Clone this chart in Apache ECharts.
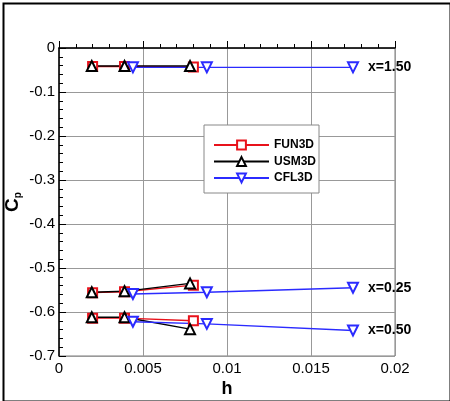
<!DOCTYPE html>
<html>
<head>
<meta charset="utf-8">
<script src="https://cdn.jsdelivr.net/npm/echarts@6/dist/echarts.min.js"></script>
<style>
html,body{margin:0;padding:0;background:#fff;}
#chart{width:450px;height:401px;}
</style>
</head>
<body>
<div id="chart"></div>
<script>
// Stations (labels)
const stations = ['x=1.50', 'x=0.25', 'x=0.50'];
// FUN3D
const funH = [0.002, 0.0039, 0.0080];
const funCp150 = [-0.042, -0.042, -0.043];
const funCp025 = [-0.556, -0.554, -0.539];
const funCp050 = [-0.614, -0.614, -0.620];
// USM3D
const usmH = [0.00195, 0.0039, 0.0078];
const usmCp150 = [-0.041, -0.041, -0.041];
const usmCp025 = [-0.555, -0.553, -0.535];
const usmCp050 = [-0.612, -0.612, -0.639];
// CFL3D
const cflH = [0.0044, 0.0088, 0.0175];
const cflCp150 = [-0.044, -0.044, -0.044];
const cflCp025 = [-0.559, -0.555, -0.545];
const cflCp050 = [-0.622, -0.627, -0.642];
// Axis ticks
const xTicks = [0, 0.005, 0.01, 0.015, 0.02];
const yTicks = [0, -0.1, -0.2, -0.3, -0.4, -0.5, -0.6, -0.7];

const FONT = '"Liberation Sans", Arial, Helvetica, sans-serif';
const RED = '#e8121b', BLACK = '#000000', BLUE = '#2b2bff';

function pts(h, cp) { return h.map((v, i) => [v, cp[i]]); }

function mk(name, color, symbol, rot, h, cp, label) {
  const data = pts(h, cp);
  if (label) {
    const last = data.length - 1;
    data[last] = {
      value: data[last],
      label: {
        show: true, position: 'right', distance: 9, formatter: label,
        fontFamily: FONT, fontWeight: 'bold', fontSize: 14, color: '#000'
      }
    };
  }
  return {
    name: name, type: 'line', data: data,
    symbol: symbol, symbolSize: symbol === 'emptyRect' ? 9 : 10,
    symbolRotate: rot, showAllSymbol: true,
    lineStyle: { color: color, width: 1.4 },
    itemStyle: { color: color, borderColor: color, borderWidth: 1.4 },
    animation: false, z: 3
  };
}

const series = [
  mk('FUN3D', RED, 'emptyRect', 0, funH, funCp150),
  mk('FUN3D', RED, 'emptyRect', 0, funH, funCp025),
  mk('FUN3D', RED, 'emptyRect', 0, funH, funCp050),
  mk('USM3D', BLACK, 'emptyTriangle', 0, usmH, usmCp150),
  mk('USM3D', BLACK, 'emptyTriangle', 0, usmH, usmCp025),
  mk('USM3D', BLACK, 'emptyTriangle', 0, usmH, usmCp050),
  mk('CFL3D', BLUE, 'emptyTriangle', 180, cflH, cflCp150, stations[0]),
  mk('CFL3D', BLUE, 'emptyTriangle', 180, cflH, cflCp025, stations[1]),
  mk('CFL3D', BLUE, 'emptyTriangle', 180, cflH, cflCp050, stations[2])
];

const chart = echarts.init(document.getElementById('chart'), null, { renderer: 'canvas' });
chart.setOption({
  animation: false,
  backgroundColor: '#fff',
  grid: { left: 59, right: 55, top: 48, bottom: 45, show: true, borderColor: '#7a7a7a', borderWidth: 1,
    containLabel: false, outerBoundsMode: 'none' },
  legend: {
    orient: 'vertical', left: 204, top: 125,
    data: ['FUN3D', 'USM3D', 'CFL3D'],
    itemWidth: 55, itemHeight: 11, itemGap: 4.5,
    padding: [14, 3, 9, 9],
    backgroundColor: '#fff', borderColor: '#888', borderWidth: 1,
    textStyle: { fontFamily: FONT, fontWeight: 'bold', fontSize: 12, color: '#000' }
  },
  xAxis: {
    type: 'value', min: xTicks[0], max: xTicks[xTicks.length - 1], interval: 0.005,
    name: 'h', nameLocation: 'middle', nameGap: 24, nameMoveOverlap: false,
    nameTextStyle: { fontFamily: FONT, fontWeight: 'bold', fontSize: 18, color: '#000' },
    axisLine: { show: true, lineStyle: { color: '#000', width: 1.5 } },
    axisTick: { show: true, inside: true, length: 7, lineStyle: { color: '#000' } },
    minorTick: { show: true, splitNumber: 5, length: 4, lineStyle: { color: '#000' } },
    splitLine: { show: true, lineStyle: { color: '#999', width: 1 } },
    axisLabel: { fontFamily: FONT, fontSize: 15, color: '#000', margin: 5,
      formatter: v => String(+v.toFixed(3)) }
  },
  yAxis: {
    type: 'value', min: yTicks[yTicks.length - 1], max: yTicks[0], interval: 0.1,
    name: '{c|C}{p|p}', nameLocation: 'middle', nameGap: 36, nameRotate: 90, nameMoveOverlap: false,
    nameTextStyle: {
      rich: {
        c: { fontFamily: FONT, fontWeight: 'bold', fontSize: 19, color: '#000', lineHeight: 20 },
        p: { fontFamily: FONT, fontWeight: 'bold', fontSize: 10, color: '#000', verticalAlign: 'bottom', lineHeight: 10, padding: [8, 0, 0, 0] }
      }
    },
    axisLine: { show: true, lineStyle: { color: '#000', width: 1.5 } },
    axisTick: { show: true, inside: true, length: 7, lineStyle: { color: '#000' } },
    minorTick: { show: true, splitNumber: 5, length: 4, lineStyle: { color: '#000' } },
    splitLine: { show: true, lineStyle: { color: '#999', width: 1 } },
    axisLabel: { fontFamily: FONT, fontSize: 15, color: '#000', margin: 4,
      formatter: v => String(+v.toFixed(2)) }
  },
  graphic: [{
    type: 'rect', left: 1, top: 1, z: 100, silent: true,
    shape: { width: 447, height: 398 },
    style: { fill: null, stroke: '#000', lineWidth: 2 }
  }],
  series: series
});
</script>
</body>
</html>
